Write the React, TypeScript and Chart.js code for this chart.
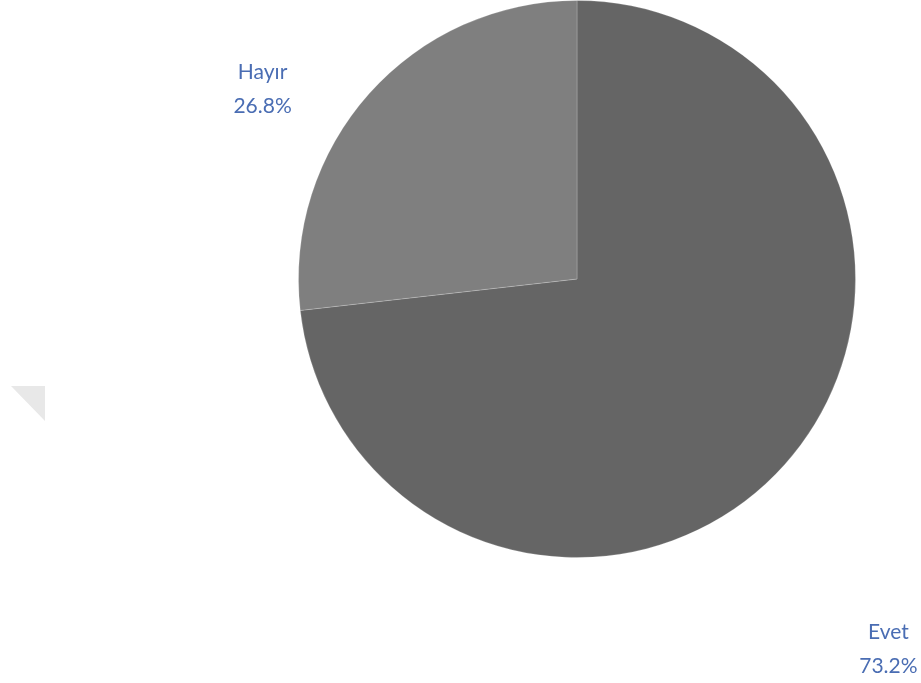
import React, { useEffect, useRef } from "react";
import { Chart, registerables } from "chart.js";

Chart.register(...registerables);

const categories = ["Evet", "Hayır"];
const values = [73.2, 26.8];
const sliceColors = ["#656565", "#7f7f7f"];
const labelColor = "#4a6db3";

const labelPlugin = {
  id: "sliceLabels",
  afterDraw(chart: any) {
    const meta = chart.getDatasetMeta(0);
    const ctx = chart.ctx;
    const offsets = chart.options.plugins.sliceLabels.offsets;
    ctx.save();
    ctx.font = '400 21px "Lato", "Open Sans", sans-serif';
    ctx.fillStyle = labelColor;
    ctx.textAlign = "center";
    ctx.textBaseline = "middle";
    meta.data.forEach((arc: any, i: number) => {
      const r = arc.outerRadius;
      const cx = arc.x;
      const cy = arc.y;
      const o = offsets[i];
      const x = cx + o[0] * r;
      const y = cy + o[1] * r;
      ctx.fillText(String(categories[i]), x, y);
      ctx.fillText(values[i].toFixed(1) + "%", x, y + 34);
    });
    ctx.restore();
  },
};

export default function App() {
  const ref = useRef<HTMLCanvasElement | null>(null);
  useEffect(() => {
    document.body.style.margin = "0";
    const chart = new Chart(ref.current as HTMLCanvasElement, {
      type: "pie",
      data: {
        labels: categories,
        datasets: [
          {
            data: values,
            backgroundColor: sliceColors,
            borderColor: "rgba(255,255,255,0.2)",
            borderWidth: 1,
          },
        ],
      },
      options: {
        animation: false,
        responsive: false,
        layout: { padding: { top: 0, bottom: 125, left: 298, right: 65 } },
        plugins: {
          legend: { display: false },
          tooltip: { enabled: false },
          sliceLabels: {
            offsets: [
              [1.118, 1.268],
              [-1.129, -0.742],
            ],
          },
        } as any,
      },
      plugins: [labelPlugin],
    });
    return () => chart.destroy();
  }, []);
  return (
    <div style={{ position: "relative", width: 921, height: 683, background: "#fff" }}>
      <canvas ref={ref} width={921} height={683} style={{ display: "block" }} />
      <div
        style={{
          position: "absolute",
          left: 11,
          top: 386,
          width: 0,
          height: 0,
          borderTop: "35px solid #e8e8e8",
          borderLeft: "34px solid transparent",
        }}
      />
    </div>
  );
}
